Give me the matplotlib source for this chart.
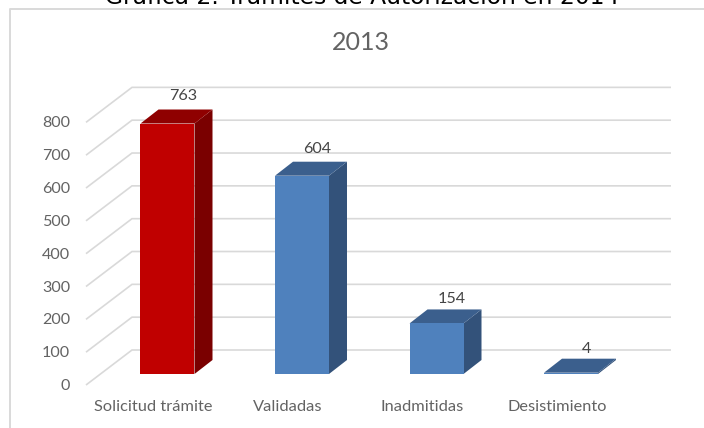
import matplotlib
matplotlib.use("Agg")
import matplotlib.pyplot as plt

categories = ["Solicitud trámite", "Validadas", "Inadmitidas", "Desistimiento"]
values = [763, 604, 154, 4]
face_colors = ["#c00000", "#4f81bd", "#4f81bd", "#4f81bd"]
top_colors = ["#8f0000", "#3b5f8d", "#3b5f8d", "#3b5f8d"]
side_colors = ["#7a0000", "#33527a", "#33527a", "#33527a"]
yticks = [0, 100, 200, 300, 400, 500, 600, 700, 800]
title = "Gráfica 2. Trámites de Autorización en 2014"
subtitle = "2013"

W, H = 704, 428
PX_X = 134.5  # pixels per category
PX_Y = 0.3283  # pixels per unit
LABEL_FONT = "Lato"

# oblique offsets, in data units
bar_w = 54 / PX_X
bar_dx, bar_dy = 18 / PX_X, 14 / PX_Y
wall_dx, wall_dy = 46 / PX_X, 35 / PX_Y
label_gap = [14, 12.5, 10.5, 9.5]  # px above the top back edge

fig = plt.figure(figsize=(W / 100, H / 100), dpi=100)
ax = fig.add_axes([0, 0, 1, 1])
ax.set_xlim(-167.5 / PX_X, (W - 167.5) / PX_X)
ax.set_ylim(-(H - 374) / PX_Y, 374 / PX_Y)
ax.axis("off")

grid_color = "#d9d9d9"
x_front = -81.5 / PX_X
x_right = 3 + 100 / PX_X
for v in yticks:
    y0 = v - 11 / PX_Y
    ax.plot([x_front, x_front + wall_dx, x_right], [y0, y0 + wall_dy, y0 + wall_dy],
            color=grid_color, lw=1.2, solid_capstyle="butt", solid_joinstyle="miter", zorder=1)
    ax.text(x_front - 16 / PX_X, y0 - 1 / PX_Y, str(v), ha="right", va="center",
            fontsize=11.6, color="#636363", family=LABEL_FONT)

for i, (cat, val) in enumerate(zip(categories, values)):
    x0, x1 = i - bar_w / 2, i + bar_w / 2
    ax.fill([x1, x1 + bar_dx, x1 + bar_dx, x1], [0, bar_dy, val + bar_dy, val],
            color=side_colors[i], lw=0, zorder=3)
    ax.fill([x0, x1, x1 + bar_dx, x0 + bar_dx], [val, val, val + bar_dy, val + bar_dy],
            color=top_colors[i], lw=0, zorder=3)
    ax.fill([x0, x1, x1, x0], [0, 0, val, val], color=face_colors[i], lw=0, zorder=3)
    ax.text(i + 15.5 / PX_X, val + bar_dy + label_gap[i] / PX_Y, str(val), ha="center", va="center",
            fontsize=11.6, color="#454545", family=LABEL_FONT, zorder=4)
    ax.text(i - 14 / PX_X, -33 / PX_Y, cat, ha="center", va="center",
            fontsize=11.8, color="#636363", family=LABEL_FONT)

# chart frame, cut by the image on the right and bottom
ax.plot([10, 10, W], [0, H - 9, H - 9], transform=None, color=grid_color, lw=1.4)
fig.text(361 / W, 1 - 42.5 / H, subtitle, ha="center", va="center", fontsize=18,
         color="#636363", family=LABEL_FONT)
fig.text(362 / W, 1 - 4 / H, title, ha="center", va="baseline", fontsize=16.8,
         color="black", family="DejaVu Sans")

fig.savefig("out.png", dpi=100)
